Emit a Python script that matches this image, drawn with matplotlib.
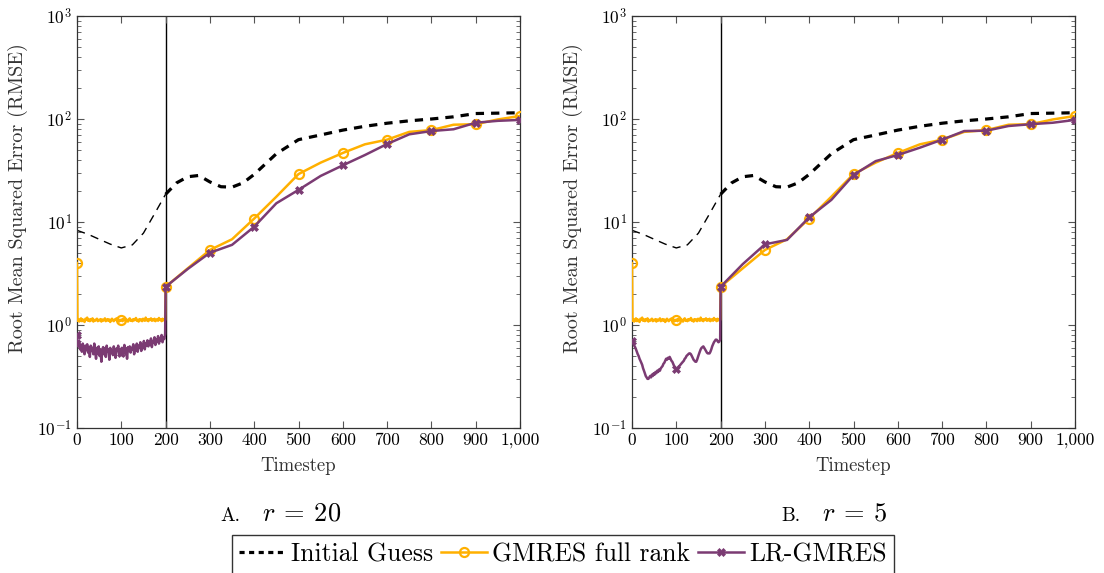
import numpy as np
import matplotlib
matplotlib.use('Agg')
import matplotlib.pyplot as plt
from matplotlib.lines import Line2D

plt.rcParams['font.family'] = ['cmr10', 'DejaVu Serif']
plt.rcParams['mathtext.fontset'] = 'cm'
plt.rcParams['axes.formatter.use_mathtext'] = True
plt.rcParams['axes.unicode_minus'] = False

# ---------------- data ----------------
t_init = [0, 25, 50, 75, 100, 125, 150, 175, 200, 225, 250, 275, 300, 325, 350, 375,
          400, 450, 500, 550, 600, 650, 700, 750, 800, 850, 900, 950, 1000]
init_vals = [8.3, 7.6, 6.8, 6.1, 5.6, 6.0, 7.8, 12.0, 18.6, 24.0, 27.5, 28.3, 24.5, 22.0,
             21.8, 24.0, 29.0, 46.0, 63.0, 70.0, 78.0, 85.0, 91.0, 96.0, 100.0, 105.0,
             113.0, 114.0, 115.0]

t_noise = list(range(1, 200, 2))
gm_noise = [1.10, 1.14, 1.08, 1.12, 1.16, 1.09, 1.13, 1.11, 1.07, 1.15,
            1.12, 1.18, 1.10, 1.13, 1.09, 1.14, 1.11, 1.16, 1.08, 1.12,
            1.10, 1.13, 1.15, 1.09, 1.12, 1.11, 1.14, 1.08, 1.13, 1.10,
            1.12, 1.16, 1.09, 1.11, 1.14, 1.10, 1.13, 1.07, 1.12, 1.15,
            1.11, 1.09, 1.13, 1.12, 1.16, 1.10, 1.14, 1.08, 1.12, 1.11,
            1.13, 1.09, 1.15, 1.12, 1.10, 1.14, 1.11, 1.08, 1.13, 1.16,
            1.10, 1.12, 1.09, 1.14, 1.11, 1.13, 1.17, 1.10, 1.12, 1.08,
            1.14, 1.11, 1.13, 1.09, 1.15, 1.12, 1.10, 1.18, 1.11, 1.13,
            1.09, 1.14, 1.12, 1.16, 1.10, 1.13, 1.11, 1.15, 1.09, 1.12,
            1.14, 1.10, 1.17, 1.12, 1.13, 1.09, 1.15, 1.11, 1.14, 1.12]
lr20_noise = [0.68, 0.62, 0.70, 0.58, 0.64, 0.55, 0.66, 0.60, 0.52, 0.63,
              0.57, 0.65, 0.54, 0.61, 0.49, 0.63, 0.56, 0.60, 0.52, 0.66,
              0.55, 0.47, 0.60, 0.53, 0.62, 0.50, 0.58, 0.44, 0.57, 0.61,
              0.52, 0.59, 0.49, 0.63, 0.55, 0.58, 0.46, 0.60, 0.54, 0.57,
              0.51, 0.62, 0.55, 0.48, 0.59, 0.56, 0.63, 0.52, 0.58, 0.54,
              0.60, 0.50, 0.57, 0.64, 0.53, 0.59, 0.47, 0.61, 0.56, 0.62,
              0.54, 0.60, 0.58, 0.65, 0.52, 0.61, 0.57, 0.66, 0.55, 0.63,
              0.60, 0.68, 0.56, 0.64, 0.61, 0.70, 0.58, 0.66, 0.63, 0.71,
              0.62, 0.69, 0.65, 0.74, 0.61, 0.70, 0.67, 0.76, 0.64, 0.72,
              0.69, 0.78, 0.66, 0.74, 0.71, 0.80, 0.68, 0.76, 0.73, 0.82]
lr5_noise = [0.69, 0.66, 0.63, 0.61, 0.58, 0.55, 0.52, 0.50, 0.47, 0.45,
             0.43, 0.41, 0.38, 0.36, 0.34, 0.32, 0.31, 0.30, 0.30, 0.31,
             0.32, 0.31, 0.33, 0.32, 0.34, 0.33, 0.35, 0.34, 0.36, 0.35,
             0.37, 0.36, 0.38, 0.39, 0.40, 0.42, 0.43, 0.45, 0.47, 0.46,
             0.48, 0.47, 0.49, 0.47, 0.45, 0.44, 0.42, 0.40, 0.39, 0.37,
             0.36, 0.37, 0.38, 0.40, 0.41, 0.42, 0.43, 0.44, 0.45, 0.47,
             0.48, 0.50, 0.51, 0.52, 0.53, 0.53, 0.52, 0.50, 0.48, 0.46,
             0.45, 0.44, 0.44, 0.46, 0.49, 0.52, 0.55, 0.58, 0.60, 0.61,
             0.62, 0.60, 0.58, 0.56, 0.54, 0.53, 0.53, 0.53, 0.55, 0.58,
             0.62, 0.65, 0.68, 0.70, 0.72, 0.72, 0.70, 0.68, 0.69, 0.72]

t_smooth = list(range(200, 1001, 50))
gm_smooth = [2.35, 3.55, 5.35, 6.8, 10.8, 17.6, 29.2, 37.7, 46.8, 56.8, 63.0,
             75.0, 78.0, 88.0, 89.0, 99.0, 107.0]
lr20_smooth = [2.35, 3.5, 5.03, 6.0, 9.0, 15.2, 20.5, 28.0, 35.5, 44.7, 57.2,
               71.0, 76.4, 79.5, 92.0, 96.0, 98.0]
lr5_smooth = [2.35, 3.9, 6.07, 6.7, 11.1, 16.4, 28.6, 39.0, 44.7, 52.7, 63.0,
              76.4, 77.0, 85.5, 89.0, 92.0, 98.0]

gm_t0 = 4.0
lr20_t0 = 0.80
lr5_t0 = 0.70

x_ticks = list(range(0, 1001, 100))
x_ticklabels = ['0', '100', '200', '300', '400', '500', '600', '700', '800', '900', '1,000']

panels = [('A.', r'$r\:=\:20$', lr20_t0, lr20_noise, lr20_smooth),
          ('B.', r'$r\:=\:5$', lr5_t0, lr5_noise, lr5_smooth)]

ORANGE = '#FFB000'
PURPLE = '#7B3B73'

# ---------------- figure ----------------
fig = plt.figure(figsize=(11.04, 5.73), dpi=100)
W, H = 1104, 573
lefts = [77, 632]
cap_a = [240, 800]
cap_r = [262, 822]
top_px, bot_px = 16, 428
axw = 443

t_all = np.array([0] + t_noise + t_smooth, dtype=float)
mark_idx = [int(np.argmin(np.abs(t_all - m))) for m in x_ticks]
t_init_a = np.array(t_init, dtype=float)
init_a = np.array(init_vals)

for (lab, rlab, t0, noise, smooth), lpx, ca, cr in zip(panels, lefts, cap_a, cap_r):
    ax = fig.add_axes([lpx / W, 1 - bot_px / H, axw / W, (bot_px - top_px) / H])
    ax.set_yscale('log')

    # initial guess: thin dashed up to 200, thick dashed after
    m1 = t_init_a <= 200
    m2 = t_init_a >= 200
    l1, = ax.plot(t_init_a[m1], init_a[m1], color='black', lw=1.0, zorder=2)
    l1.set_dashes((6, 4.5))
    l2, = ax.plot(t_init_a[m2], init_a[m2], color='black', lw=2.3, zorder=2)
    l2.set_dashes((2.6, 2.2))

    gm_all = np.array([gm_t0] + gm_noise + gm_smooth)
    lr_all = np.array([t0] + noise + smooth)
    ax.plot(t_all, gm_all, color=ORANGE, lw=1.8, marker='o', markersize=6.5,
            mfc='none', mew=1.6, markevery=mark_idx, zorder=3)
    ax.plot(t_all, lr_all, color=PURPLE, lw=1.8, marker='X', markersize=5.5,
            mew=0.5, markevery=mark_idx, zorder=4)

    ax.axvline(200, color='black', lw=1.0, zorder=1)

    ax.set_xlim(0, 1000)
    ax.set_ylim(0.1, 1000)
    ax.set_xticks(x_ticks)
    ax.set_xticklabels(x_ticklabels)
    ax.tick_params(which='both', direction='in', top=True, right=True,
                   labelsize=12.5, color='#555555')
    ax.tick_params(which='major', length=5)
    ax.tick_params(which='minor', length=3)
    ax.tick_params(axis='x', which='minor', bottom=False, top=False)
    for s in ax.spines.values():
        s.set_color('#333333')
        s.set_linewidth(0.9)
    ax.set_xlabel('Timestep', fontsize=13.5, color='#333333', labelpad=6)
    ax.set_ylabel('Root Mean Squared Error (RMSE)', fontsize=14.5, color='#333333')
    ax.yaxis.set_label_coords(-0.111, (bot_px - 198) / (bot_px - top_px))

    fig.text(ca / W, 1 - 516 / H, lab, fontsize=14, ha='right', va='center')
    fig.text(cr / W, 1 - 514 / H, rlab, fontsize=19, ha='left', va='center')

handles = [Line2D([], [], color='black', lw=2.3, dashes=(1.6, 1.4)),
           Line2D([], [], color=ORANGE, lw=1.8, marker='o', markersize=6.5,
                  mfc='none', mew=1.6),
           Line2D([], [], color=PURPLE, lw=1.8, marker='X', markersize=5.5, mew=0.5)]
leg = fig.legend(handles, ['Initial Guess', 'GMRES full rank', 'LR-GMRES'],
                 loc='upper center', bbox_to_anchor=(563 / W, 1 - 535 / H),
                 ncol=3, fontsize=18.5, frameon=True, fancybox=False,
                 edgecolor='black', handlelength=1.8, handletextpad=0.2,
                 columnspacing=0.3, borderpad=0.3, borderaxespad=0)
leg.get_frame().set_linewidth(1.0)

fig.savefig('out.png', dpi=100)
